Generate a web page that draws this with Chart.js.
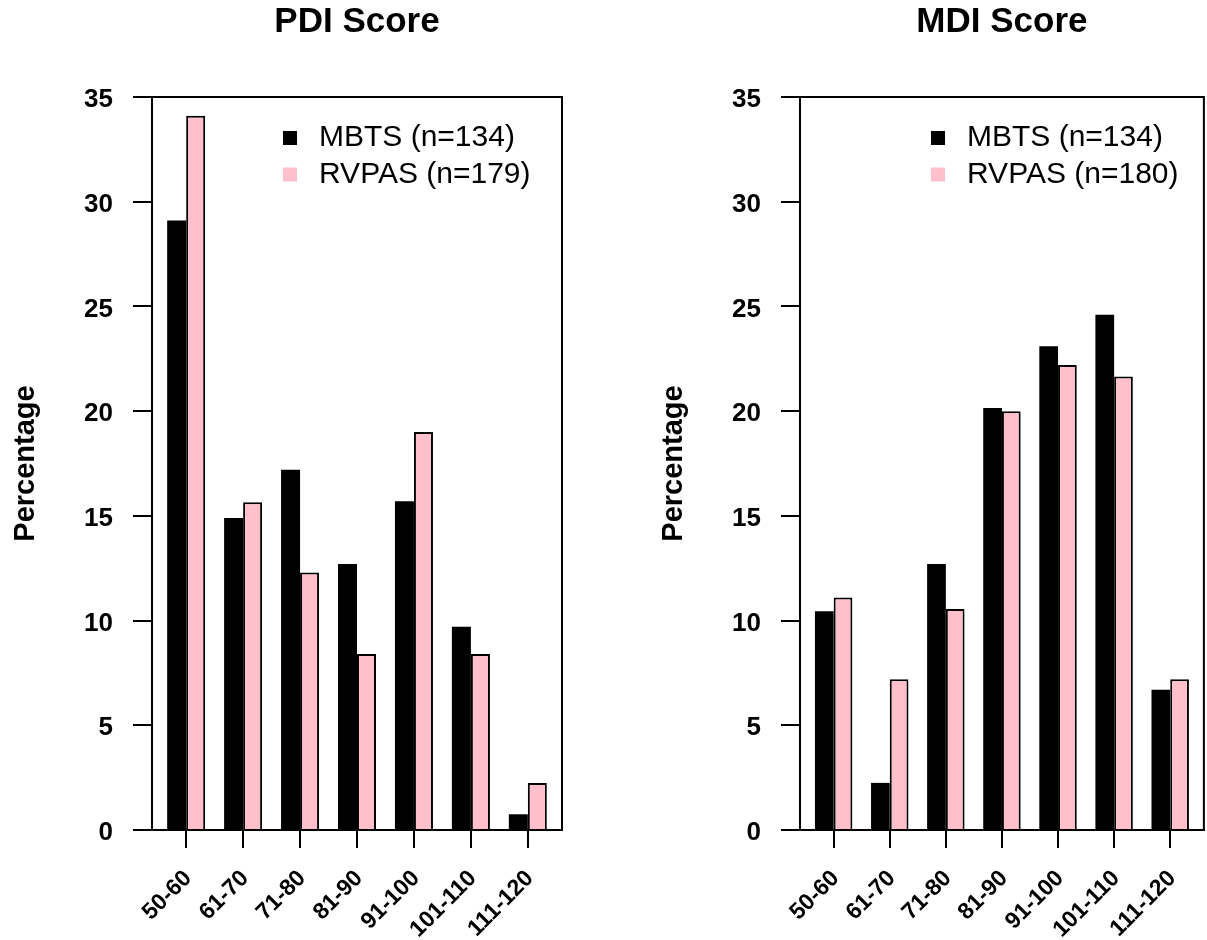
<!DOCTYPE html>
<html>
<head>
<meta charset="utf-8">
<title>PDI and MDI Score</title>
<script src="https://cdn.jsdelivr.net/npm/chart.js@4.4.1/dist/chart.umd.min.js"></script>
<style>
  html, body { margin: 0; padding: 0; background: #fff; }
  #wrap { position: relative; width: 1207px; height: 940px; overflow: hidden; }
  canvas { position: absolute; top: 0; }
  #pdiChart { left: 0; }
  #mdiChart { left: 600px; }
</style>
</head>
<body>
<div id="wrap">
  <canvas id="pdiChart" width="600" height="940"></canvas>
  <canvas id="mdiChart" width="607" height="940"></canvas>
</div>
<script>
const scoreBands = ['50-60', '61-70', '71-80', '81-90', '91-100', '101-110', '111-120'];

// percentages
const pdiMbts = [29.1, 14.9, 17.2, 12.7, 15.7, 9.7, 0.75];
const pdiRvpas = [34.1, 15.65, 12.3, 8.4, 19.0, 8.4, 2.25];
const mdiMbts = [10.45, 2.25, 12.7, 20.15, 23.1, 24.6, 6.7];
const mdiRvpas = [11.1, 7.2, 10.55, 20.0, 22.2, 21.65, 7.2];

const pdiLegend = ['MBTS (n=134)', 'RVPAS (n=179)'];
const mdiLegend = ['MBTS (n=134)', 'RVPAS (n=180)'];

const yMax = 35;
const yStep = 5;

const FONT = '"Liberation Sans", Arial, Helvetica, sans-serif';
Chart.defaults.font.family = FONT;
Chart.defaults.color = '#000';

// box around the plot + move legend inside the plot area (top right)
const framePlugin = {
  id: 'frame',
  afterLayout(chart) {
    const a = chart.chartArea;
    const lg = chart.legend;
    lg.left = a.left + 117.5;
    lg.top = a.top + 19.5;
    lg.right = a.right;
    lg.bottom = a.bottom;
  },
  afterDraw(chart) {
    const a = chart.chartArea;
    const ctx = chart.ctx;
    ctx.save();
    ctx.strokeStyle = '#000';
    ctx.lineWidth = 2;
    ctx.strokeRect(a.left, a.top, a.right - a.left, a.bottom - a.top);
    ctx.restore();
  }
};

function toPoints(values) {
  return values.map((v, i) => ({ x: i + 1, y: v }));
}

function makeChart(canvasId, title, mbts, rvpas, legendText, padLeft, padRight) {
  const ctx = document.getElementById(canvasId).getContext('2d');
  return new Chart(ctx, {
    type: 'bar',
    data: {
      datasets: [
        {
          label: legendText[0],
          data: toPoints(mbts),
          backgroundColor: '#000000',
          borderWidth: 0
        },
        {
          label: legendText[1],
          data: toPoints(rvpas),
          backgroundColor: '#FFC0CB',
          borderColor: '#000000',
          borderWidth: 2
        }
      ]
    },
    options: {
      responsive: false,
      animation: false,
      events: [],
      categoryPercentage: 0.6675,
      barPercentage: 1,
      layout: { padding: { left: padLeft, right: padRight, top: 0, bottom: 0 } },
      scales: {
        x: {
          type: 'linear',
          min: 0.4,
          max: scoreBands.length + 0.6,
          offset: false,
          afterBuildTicks: axis => {
            axis.ticks = scoreBands.map((b, i) => ({ value: i + 1 }));
          },
          afterFit: axis => { axis.height = 110; },
          grid: { offset: false, drawOnChartArea: false, color: '#000', lineWidth: 2, tickLength: 18 },
          border: { display: true, color: '#000', width: 2 },
          ticks: {
            autoSkip: false,
            maxRotation: 45,
            minRotation: 45,
            padding: 17,
            labelOffset: 2,
            font: { size: 23, weight: 'bold' },
            callback: value => scoreBands[value - 1]
          }
        },
        y: {
          min: 0,
          max: yMax,
          afterFit: axis => { axis.width = 152; },
          grid: { drawOnChartArea: false, color: '#000', lineWidth: 2, tickLength: 19 },
          border: { display: true, color: '#000', width: 2 },
          ticks: {
            stepSize: yStep,
            padding: 20,
            labelOffset: 3,
            font: { size: 26, weight: 'bold' }
          },
          title: {
            display: true,
            text: 'Percentage',
            font: { size: 29, weight: 'bold' },
            padding: { top: 9, bottom: 0 }
          }
        }
      },
      plugins: {
        title: {
          display: true,
          text: title,
          fullSize: false,
          font: { size: 35, weight: 'bold' },
          padding: { top: 1, bottom: 54 }
        },
        legend: {
          position: 'chartArea',
          align: 'start',
          labels: {
            usePointStyle: true,
            pointStyle: 'rect',
            boxWidth: 28,
            boxHeight: 14,
            padding: 6.5,
            font: { size: 30 },
            generateLabels: chart =>
              Chart.defaults.plugins.legend.labels.generateLabels(chart).map(item => ({ ...item, lineWidth: 0 }))
          }
        },
        tooltip: { enabled: false }
      }
    },
    plugins: [framePlugin]
  });
}

makeChart('pdiChart', 'PDI Score', pdiMbts, pdiRvpas, pdiLegend, 0, 38);
makeChart('mdiChart', 'MDI Score', mdiMbts, mdiRvpas, mdiLegend, 48, 1);
</script>
</body>
</html>
